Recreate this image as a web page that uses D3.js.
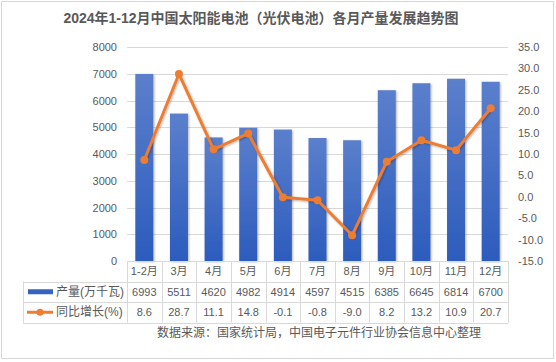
<!DOCTYPE html>
<html>
<head>
<meta charset="utf-8">
<script src="https://cdn.jsdelivr.net/npm/d3@7"></script>
<style>
  body { margin: 0; background: #fff; }
  text { font-family: "Liberation Sans", "Noto Sans CJK SC", sans-serif; fill: #595959; }
</style>
</head>
<body>
<svg id="chart" width="556" height="362"></svg>
<script>
'use strict';

// Data
const months = ['1-2月', '3月', '4月', '5月', '6月', '7月', '8月', '9月', '10月', '11月', '12月'];
const output = [6993, 5511, 4620, 4982, 4914, 4597, 4515, 6385, 6645, 6814, 6700];
const growth = [8.6, 28.7, 11.1, 14.8, -0.1, -0.8, -9.0, 8.2, 13.2, 10.9, 20.7];
const leftTicks = [0, 1000, 2000, 3000, 4000, 5000, 6000, 7000, 8000];
const rightTicks = [-15, -10, -5, 0, 5, 10, 15, 20, 25, 30, 35];
const seriesNames = ['产量(万千瓦)', '同比增长(%)'];

(function () {

    const svg = d3.select('#chart');

    // Plain hyphen for negatives
    const fmt1 = (d) => d.toFixed(1);

    // Outer frame
    svg.append('rect')
        .attr('x', 1.5).attr('y', 1.5)
        .attr('width', 552).attr('height', 357)
        .attr('fill', '#fff')
        .attr('stroke', '#d9d9d9');

    // Title
    svg.append('text')
        .attr('x', 261).attr('y', 23)
        .attr('text-anchor', 'middle')
        .style('font-size', '14px')
        .style('font-weight', 'bold')
        .text('2024年1-12月中国太阳能电池（光伏电池）各月产量发展趋势图');

    // Config
    const plotLeft = 127, plotRight = 508, plotTop = 47, plotBottom = 261;

    const scX = d3.scaleBand()
        .domain(months)
        .range([plotLeft, plotRight]);

    const scY = d3.scaleLinear()
        .domain([0, 8000])
        .range([plotBottom, plotTop]);

    const scY2 = d3.scaleLinear()
        .domain([-15, 35])
        .range([plotBottom, plotTop]);

    // Gridlines
    svg.append('g')
        .selectAll('line')
        .data(leftTicks.slice(1))
        .enter()
        .append('line')
            .attr('x1', plotLeft).attr('x2', plotRight)
            .attr('y1', (d) => Math.round(scY(d)) + 0.5)
            .attr('y2', (d) => Math.round(scY(d)) + 0.5)
            .attr('stroke', '#d9d9d9');

    // Left axis
    const yAxis = svg.append('g')
        .attr('transform', `translate(${plotLeft}, 0)`)
        .call(d3.axisLeft(scY).tickValues(leftTicks).tickSize(0).tickPadding(10)
            .tickFormat((d) => String(d)));
    yAxis.select('.domain').remove();
    yAxis.selectAll('text').style('font-size', '11px').attr('fill', '#595959');

    // Right axis
    const yAxis2 = svg.append('g')
        .attr('transform', `translate(${plotRight}, 0)`)
        .call(d3.axisRight(scY2).tickValues(rightTicks).tickSize(0).tickPadding(10)
            .tickFormat(fmt1));
    yAxis2.select('.domain').remove();
    yAxis2.selectAll('text').style('font-size', '11px').attr('fill', '#595959');

    // Bar gradient
    const defs = svg.append('defs');
    const grad = defs.append('linearGradient')
        .attr('id', 'barGrad')
        .attr('x1', 0).attr('y1', 0).attr('x2', 0).attr('y2', 1);
    grad.append('stop').attr('offset', '0%').attr('stop-color', '#5b7fcc');
    grad.append('stop').attr('offset', '100%').attr('stop-color', '#2c5cbd');

    const shadow = defs.append('filter').attr('id', 'shadow')
        .attr('x', '-30%').attr('y', '-10%').attr('width', '160%').attr('height', '130%');
    shadow.append('feDropShadow')
        .attr('dx', 1).attr('dy', 1).attr('stdDeviation', 1.2)
        .attr('flood-color', '#000').attr('flood-opacity', 0.3);

    const barW = scX.bandwidth() * 0.52;

    // Bars
    svg.append('g')
        .selectAll('rect')
        .data(output)
        .enter()
        .append('rect')
            .attr('x', (d, i) => scX(months[i]) + (scX.bandwidth() - barW) / 2)
            .attr('y', (d) => scY(d))
            .attr('width', barW)
            .attr('height', (d) => plotBottom - scY(d))
            .attr('fill', 'url(#barGrad)')
            .attr('filter', 'url(#shadow)');

    // Line
    const line = d3.line()
        .x((d, i) => scX(months[i]) + scX.bandwidth() / 2)
        .y((d) => scY2(d));

    svg.append('path')
        .datum(growth)
        .attr('d', line)
        .attr('fill', 'none')
        .attr('stroke', '#ed7d31')
        .attr('stroke-width', 3)
        .attr('stroke-linejoin', 'round')
        .attr('filter', 'url(#shadow)');

    svg.append('g')
        .selectAll('circle')
        .data(growth)
        .enter()
        .append('circle')
            .attr('cx', (d, i) => scX(months[i]) + scX.bandwidth() / 2)
            .attr('cy', (d) => scY2(d))
            .attr('r', 4)
            .attr('fill', '#ed7d31');

    // Data table
    const rowTop = plotBottom, rowH = 20.5, tableLeft = 23;
    const table = svg.append('g').attr('class', 'table');
    const gridColor = '#d9d9d9';

    // Horizontal lines
    [0, 1, 2, 3].forEach((r) => {
        const y = Math.round(rowTop + r * rowH) + 0.5;
        table.append('line')
            .attr('x1', r === 0 ? plotLeft : tableLeft).attr('x2', plotRight)
            .attr('y1', y).attr('y2', y)
            .attr('stroke', gridColor);
    });

    // Vertical lines
    months.forEach((m, i) => {
        const x = Math.round(scX(m)) + 0.5;
        table.append('line')
            .attr('x1', x).attr('x2', x)
            .attr('y1', rowTop).attr('y2', rowTop + 3 * rowH)
            .attr('stroke', gridColor);
    });
    table.append('line')
        .attr('x1', plotRight + 0.5).attr('x2', plotRight + 0.5)
        .attr('y1', rowTop).attr('y2', rowTop + 3 * rowH)
        .attr('stroke', gridColor);
    table.append('line')
        .attr('x1', tableLeft + 0.5).attr('x2', tableLeft + 0.5)
        .attr('y1', rowTop + rowH).attr('y2', rowTop + 3 * rowH)
        .attr('stroke', gridColor);

    const rows = [months, output, growth.map(fmt1)];
    rows.forEach((row, r) => {
        table.selectAll(null)
            .data(row)
            .enter()
            .append('text')
                .attr('x', (d, i) => scX(months[i]) + scX.bandwidth() / 2)
                .attr('y', rowTop + r * rowH + rowH / 2 + 4)
                .attr('text-anchor', 'middle')
                .style('font-size', '11px')
                .text((d) => d);
    });

    // Legend keys
    table.append('rect')
        .attr('x', 28).attr('y', rowTop + rowH * 1.5 - 2.5)
        .attr('width', 25).attr('height', 5)
        .attr('fill', '#3563c0');
    table.append('line')
        .attr('x1', 27).attr('x2', 53)
        .attr('y1', rowTop + rowH * 2.5).attr('y2', rowTop + rowH * 2.5)
        .attr('stroke', '#ed7d31').attr('stroke-width', 3);
    table.append('circle')
        .attr('cx', 40).attr('cy', rowTop + rowH * 2.5)
        .attr('r', 3.5).attr('fill', '#ed7d31');

    seriesNames.forEach((name, i) => {
        table.append('text')
            .attr('x', 56)
            .attr('y', rowTop + rowH * (i + 1.5) + 4)
            .style('font-size', '12px')
            .text(name);
    });

    // Source note
    svg.append('text')
        .attr('x', 157).attr('y', 337)
        .style('font-size', '12px')
        .text('数据来源：国家统计局，中国电子元件行业协会信息中心整理');

})();
</script>
</body>
</html>
